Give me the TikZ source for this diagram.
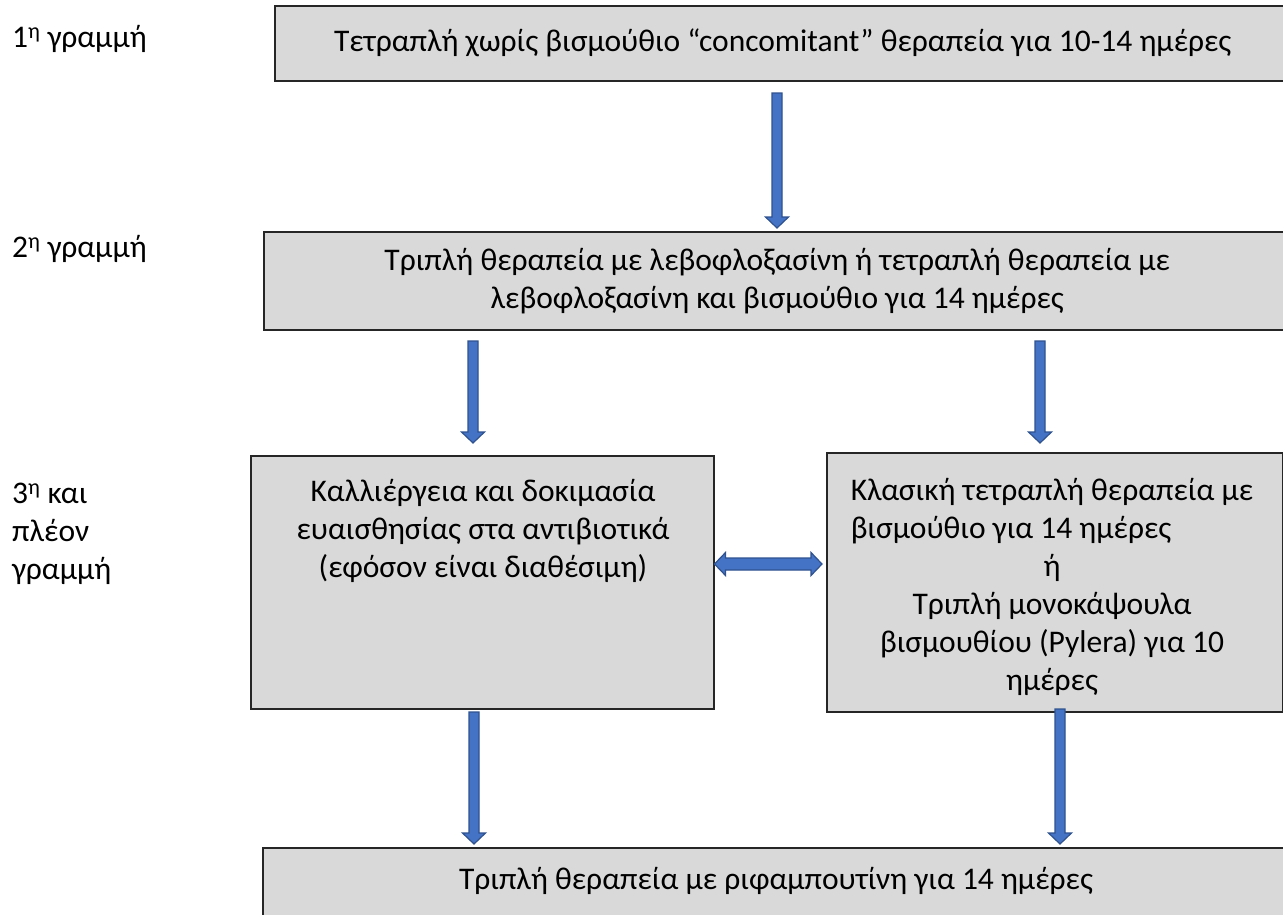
\documentclass[tikz,border=0pt]{standalone}
\usepackage{fontspec}
\setmainfont{Carlito}
\usetikzlibrary{calc}

\definecolor{boxgray}{HTML}{D9D9D9}
\definecolor{arrblue}{HTML}{4472C4}
\definecolor{arrline}{HTML}{2F528F}

\tikzset{
	box/.style={draw=black!85, line width=1.5pt, fill=boxgray, inner sep=0pt, anchor=north west},
	txt/.style={font=\fontsize{31.5}{38}\selectfont, align=center},
	lab/.style={font=\fontsize{31.5}{38}\selectfont, align=left, anchor=west, inner sep=0pt},
	downarr/.style={draw=arrline, fill=arrblue, line width=1.2pt, to path={
		let \p1=(\tikztostart), \p2=(\tikztotarget) in
		(\x1-5pt,\y1) -- (\x1+5pt,\y1) -- (\x1+5pt,\y2+11pt) -- (\x1+11.5pt,\y2+11pt)
		-- (\x1,\y2) -- (\x1-11.5pt,\y2+11pt) -- (\x1-5pt,\y2+11pt) -- cycle}},
	twoarr/.style={draw=arrline, fill=arrblue, line width=1.2pt, to path={
		let \p1=(\tikztostart), \p2=(\tikztotarget) in
		(\x1,\y1) -- (\x1+11pt,\y1+11.5pt) -- (\x1+11pt,\y1+6pt) -- (\x2-11pt,\y1+6pt)
		-- (\x2-11pt,\y1+11.5pt) -- (\x2,\y1) -- (\x2-11pt,\y1-11.5pt) -- (\x2-11pt,\y1-6pt)
		-- (\x1+11pt,\y1-6pt) -- (\x1+11pt,\y1-11.5pt) -- cycle}}
}

\begin{document}
\begin{tikzpicture}[x=1pt, y=-1pt]
	\useasboundingbox[fill=white] (0,0) rectangle (1283,914);

	% Line labels
	\node[lab] (l1) at (12,39) {1\textsuperscript{η} γραμμή};
	\node[lab] (l2) at (12,249) {2\textsuperscript{η} γραμμή};
	\node[lab] (l3) at (12,534) {3\textsuperscript{η} και\\πλέον\\γραμμή};

	% Boxes
	\node[box, txt, minimum width=1016pt, minimum height=75pt] (b1) at (274,5)
		{Τετραπλή χωρίς βισμούθιο “concomitant” θεραπεία για 10-14 ημέρες};
	\node[box, txt, minimum width=1027pt, minimum height=98pt] (b2) at (263,231)
		{Τριπλή θεραπεία με λεβοφλοξασίνη ή τετραπλή θεραπεία με\\λεβοφλοξασίνη και βισμούθιο για 14 ημέρες};
	\node[box, minimum width=463pt, minimum height=253pt] (b3l) at (250,455) {};
	\node[txt, anchor=north] (t3l) at (483,476)
		{Καλλιέργεια και δοκιμασία\\ευαισθησίας στα αντιβιοτικά\\(εφόσον είναι διαθέσιμη)};
	\node[box, minimum width=456pt, minimum height=259pt] (b3r) at (826,452) {};
	\node[txt] (t3r) at (1052,585)
		{\begin{tabular}[b]{@{}l@{}}Κλασική τετραπλή θεραπεία με\\βισμούθιο για 14 ημέρες\end{tabular}\\ή\\Τριπλή μονοκάψουλα\\βισμουθίου (Pylera) για 10\\ημέρες};
	\node[box, minimum width=1028pt, minimum height=100pt] (b4) at (262,847) {};
	\node[txt] (t4) at (776,881) {Τριπλή θεραπεία με ριφαμπουτίνη για 14 ημέρες};

	% Arrows
	\coordinate (a1s) at (777,93);
	\coordinate (a1e) at ($(a1s |- b2.north)+(0,-3)$);
	\coordinate (a2ls) at (473,341);
	\coordinate (a2le) at ($(a2ls |- b3l.north)+(0,-12)$);
	\coordinate (a2rs) at (1040,341);
	\coordinate (a2re) at (1040,443);
	\coordinate (a3ls) at (474,712);
	\coordinate (a3le) at ($(a3ls |- b4.north)+(0,-3)$);
	\coordinate (a3rs) at (1060,709);
	\coordinate (a3re) at ($(a3rs |- b4.north)+(0,-3)$);
	\coordinate (dl) at (b3l.east |- 0,564);
	\coordinate (dr) at ($(b3r.west |- 0,564)+(-4,0)$);

	\draw[downarr] (a1s) to (a1e);
	\draw[downarr] (a2ls) to (a2le);
	\draw[downarr] (a2rs) to (a2re);
	\draw[downarr] (a3ls) to (a3le);
	\draw[downarr] (a3rs) to (a3re);
	\draw[twoarr] (dl) to (dr);
\end{tikzpicture}
\end{document}
